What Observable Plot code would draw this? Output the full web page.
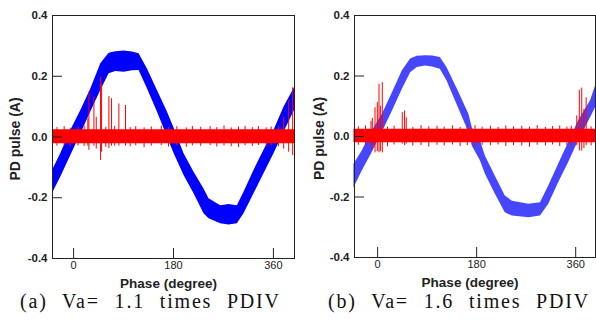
<!DOCTYPE html>
<html><head><meta charset="utf-8">
<script src="https://cdn.jsdelivr.net/npm/d3@7"></script>
<script src="https://cdn.jsdelivr.net/npm/@observablehq/plot@0.6"></script>
<style>
body{margin:0;background:#fff;}
#wrap{position:relative;width:596px;height:320px;overflow:hidden;background:#fff}
.panel{position:absolute;top:0}
.cap{position:absolute;top:291px;font-family:"Liberation Serif","Times New Roman",serif;font-size:20px;line-height:20px;letter-spacing:1.8px;word-spacing:8px;white-space:nowrap;color:#111}
</style></head><body>
<div id="wrap">
  <div class="panel" id="pa" style="left:0"></div>
  <div class="panel" id="pb" style="left:300px"></div>
  <div class="cap" id="capA" style="left:20px"></div>
  <div class="cap" id="capB" style="left:328px"></div>
</div>
<script>
// ---- shared axis ticks ----
const xTicks = [0, 180, 360];
const yTicks = [-0.4, -0.2, 0.0, 0.2, 0.4];
const yLabel = "PD pulse (A)";
const xLabel = "Phase (degree)";
const captions = ["(a) Va= 1.1 times PDIV", "(b) Va= 1.6 times PDIV"];

// ---- panel (a): Va = 1.1 x PDIV ----
const phaseA  = [-38, -23, -5, 13, 31, 49, 64, 76, 91, 106, 118, 133, 151, 169, 181, 199, 217, 235, 244, 265, 280, 295, 307, 325, 343, 361, 379, 398];
const blueLoA = [-0.186, -0.132, -0.061, 0.010, 0.082, 0.153, 0.208, 0.216, 0.213, 0.218, 0.219, 0.159, 0.082, 0.000, -0.054, -0.127, -0.187, -0.253, -0.269, -0.286, -0.290, -0.286, -0.253, -0.187, -0.121, -0.055, 0.016, 0.087];
const blueHiA = [-0.110, -0.054, 0.021, 0.087, 0.158, 0.241, 0.276, 0.281, 0.283, 0.280, 0.274, 0.224, 0.153, 0.082, 0.030, -0.055, -0.116, -0.171, -0.203, -0.226, -0.222, -0.226, -0.182, -0.110, -0.044, 0.021, 0.098, 0.162];
const noisePhaseA = [-38, 398];
const noiseLoA = [-0.022, -0.022];
const noiseHiA = [0.024, 0.024];
const spikePhaseA  = [25.7, 27.6, 36.6, 40.8, 48.6, 50.4, 63.6, 68.4, 81.6, 93.6, 378.5, 387.5, 394.7];
const spikeTopA    = [0.060, 0.148, 0.131, 0.065, 0.197, 0.175, 0.133, 0.126, 0.109, 0.104, 0.065, 0.120, 0.162];
const spikeBottomA = [-0.030, -0.044, -0.030, -0.040, -0.077, -0.050, -0.038, -0.030, -0.030, -0.030, -0.040, -0.050, -0.061];
// small hairs on the edges of the noise band
const hairPhaseA  = [-30, -17, -6, 8, 19, 58, 74, 102, 112, 127, 140, 158, 171, 186, 203, 214, 229, 246, 258, 271, 284, 297, 309, 322, 333, 347, 356, 369];
const hairTopA    = [0.031, 0.034, 0.029, 0.033, 0.036, 0.032, 0.035, 0.031, 0.034, 0.030, 0.033, 0.036, 0.031, 0.034, 0.030, 0.035, 0.032, 0.034, 0.031, 0.036, 0.030, 0.033, 0.035, 0.031, 0.034, 0.030, 0.033, 0.035];
const hairBottomA = [-0.030, -0.028, -0.033, -0.029, -0.031, -0.034, -0.030, -0.032, -0.029, -0.035, -0.030, -0.028, -0.033, -0.030, -0.034, -0.029, -0.031, -0.028, -0.033, -0.030, -0.032, -0.035, -0.029, -0.031, -0.028, -0.033, -0.030, -0.032];

// ---- panel (b): Va = 1.6 x PDIV ----
const phaseB  = [-43, -28, -10, 8.5, 27, 45, 60, 72, 87, 100, 114, 126, 148, 166, 172, 187, 196, 214, 232, 245, 275, 296, 311, 329, 347, 365, 387, 396];
const blueLoB = [-0.170, -0.114, -0.054, 0.013, 0.084, 0.156, 0.211, 0.228, 0.233, 0.230, 0.222, 0.184, 0.090, 0.013, -0.031, -0.081, -0.125, -0.191, -0.252, -0.263, -0.269, -0.263, -0.224, -0.153, -0.087, -0.015, 0.062, 0.095];
const blueHiB = [-0.092, -0.048, 0.018, 0.073, 0.145, 0.217, 0.256, 0.265, 0.267, 0.266, 0.261, 0.228, 0.145, 0.073, 0.029, -0.015, -0.065, -0.131, -0.197, -0.214, -0.224, -0.219, -0.164, -0.092, -0.021, 0.051, 0.118, 0.167];
const noisePhaseB = [-43, 396];
const noiseLoB = [-0.021, -0.021];
const noiseHiB = [0.024, 0.024];
const spikePhaseB  = [-12, -9.6, -4.7, -0.5, 2.5, 5, 8.5, 44.8, 49, 52, 362, 366.6, 371, 375, 379];
const spikeTopB    = [0.050, 0.060, 0.095, 0.112, 0.173, 0.100, 0.178, 0.079, 0.084, 0.062, 0.068, 0.153, 0.160, 0.090, 0.128];
const spikeBottomB = [-0.030, -0.040, -0.054, -0.050, -0.054, -0.050, -0.054, -0.025, -0.030, -0.025, -0.030, -0.048, -0.048, -0.040, -0.030];
const hairPhaseB  = [-35, -22, 18, 30, 64, 79, 93, 108, 121, 136, 150, 163, 177, 190, 205, 219, 233, 247, 262, 276, 290, 305, 318, 331, 344, 352, 388];
const hairTopB    = [0.032, 0.035, 0.031, 0.034, 0.030, 0.036, 0.032, 0.034, 0.031, 0.035, 0.030, 0.033, 0.036, 0.031, 0.034, 0.030, 0.035, 0.032, 0.034, 0.031, 0.036, 0.030, 0.033, 0.035, 0.031, 0.034, 0.032];
const hairBottomB = [-0.029, -0.031, -0.034, -0.028, -0.032, -0.030, -0.035, -0.029, -0.031, -0.028, -0.033, -0.030, -0.034, -0.029, -0.031, -0.028, -0.033, -0.030, -0.032, -0.035, -0.029, -0.031, -0.028, -0.033, -0.030, -0.032, -0.031];

function panel(o) {
  const band = o.phase.map((p, i) => ({p, lo: o.lo[i], hi: o.hi[i]}));
  const noise = o.noisePhase.map((p, i) => ({p, lo: o.noiseLo[i], hi: o.noiseHi[i]}));
  const spikes = o.spikePhase.map((p, i) => ({p, t: o.spikeTop[i], b: o.spikeBottom[i]}));
  const hairs = o.hairPhase.map((p, i) => ({p, t: o.hairTop[i], b: o.hairBottom[i]}));
  return Plot.plot({
    width: o.width, height: 296,
    marginLeft: o.marginLeft, marginRight: o.marginRight, marginTop: 15, marginBottom: o.marginBottom,
    x: {domain: o.xDomain},
    y: {domain: [-0.4, 0.4]},
    style: {fontFamily: "'Liberation Sans', Arial, sans-serif", background: "white", color: "#222"},
    marks: [
      Plot.areaY(band, {x: "p", y1: "lo", y2: "hi", fill: o.blue}),
      Plot.areaY(noise, {x: "p", y1: "lo", y2: "hi", fill: "#ff0000"}),
      Plot.ruleX(hairs, {x: "p", y1: "b", y2: "t", stroke: "#ff0000", strokeWidth: 1}),
      Plot.ruleX(spikes, {x: "p", y1: "b", y2: "t", stroke: "#ff0000", strokeWidth: 1}),
      Plot.frame({stroke: "#222"}),
      Plot.axisY(yTicks, {tickSize: 0, tickPadding: 5, tickFormat: d => d.toFixed(1), fontWeight: "bold", fontSize: 11.5, label: null}),
      Plot.axisY(yTicks, {tickSize: 10, dx: 10, tickFormat: () => "", label: null, stroke: "#222"}),
      Plot.axisX(xTicks, {tickSize: 0, tickPadding: 3, fontSize: 11, label: null}),
      Plot.axisX(xTicks, {tickSize: 10, dy: -10, tickFormat: () => "", label: null, stroke: "#222"}),
      Plot.text([yLabel], {frameAnchor: "left", textAnchor: "middle", dx: o.yLabelDx, dy: 2, rotate: -90, fontWeight: "bold", fontSize: 14}),
      Plot.text([xLabel], {frameAnchor: "bottom", textAnchor: "middle", dy: 29, dx: -5, fontWeight: "bold", fontSize: 13.5})
    ]
  });
}

document.getElementById("pa").appendChild(panel({
  phase: phaseA, lo: blueLoA, hi: blueHiA, blue: "#0000ff",
  noisePhase: noisePhaseA, noiseLo: noiseLoA, noiseHi: noiseHiA,
  spikePhase: spikePhaseA, spikeTop: spikeTopA, spikeBottom: spikeBottomA,
  hairPhase: hairPhaseA, hairTop: hairTopA, hairBottom: hairBottomA,
  xDomain: [-38, 398], width: 300, marginLeft: 52, marginRight: 6, marginBottom: 38, yLabelDx: -37
}));
document.getElementById("pb").appendChild(panel({
  phase: phaseB, lo: blueLoB, hi: blueHiB, blue: "#4646ff",
  noisePhase: noisePhaseB, noiseLo: noiseLoB, noiseHi: noiseHiB,
  spikePhase: spikePhaseB, spikeTop: spikeTopB, spikeBottom: spikeBottomB,
  hairPhase: hairPhaseB, hairTop: hairTopB, hairBottom: hairBottomB,
  xDomain: [-42, 396], width: 296, marginLeft: 54, marginRight: 1, marginBottom: 39, yLabelDx: -35
}));
document.getElementById("capA").textContent = captions[0];
document.getElementById("capB").textContent = captions[1];
</script>
</body></html>
